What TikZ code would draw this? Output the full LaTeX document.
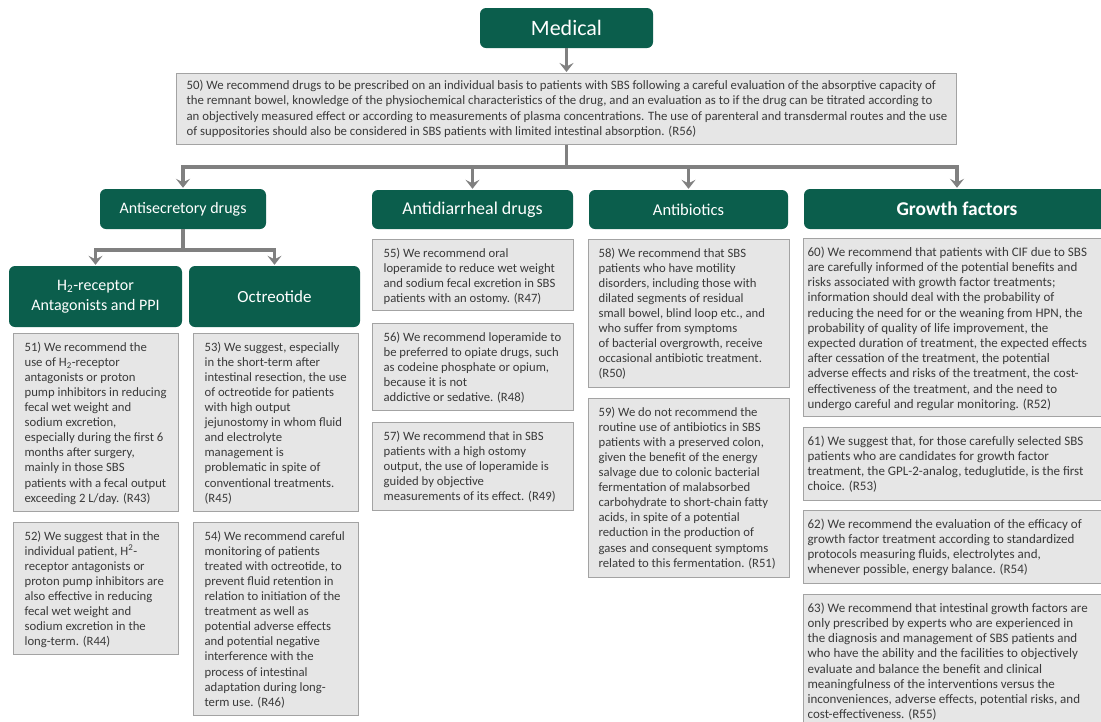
\documentclass[tikz,border=0pt]{standalone}
\usepackage{fontspec}
\setmainfont{Carlito}
\usetikzlibrary{arrows.meta}
\definecolor{hdrgreen}{HTML}{0B5E4C}
\definecolor{boxfill}{HTML}{E6E6E6}
\definecolor{boxline}{HTML}{A3A3A3}
\definecolor{txtgray}{HTML}{3A3A3A}
\definecolor{conngray}{HTML}{808080}
\newcommand{\gbody}[3]{\parbox[c][#2pt][t]{#1pt}{\begin{tabular}{@{}l@{}}#3\end{tabular}}}
\begin{document}
\begin{tikzpicture}[x=1pt,y=-1pt,
  hdr/.style={fill=hdrgreen, rounded corners=6pt, text=white, inner sep=0pt, align=center},
  gbox/.style={draw=boxline, fill=boxfill, line width=1.2pt, anchor=north west, text=txtgray,
    inner xsep=11pt, inner ysep=7pt, font=\fontsize{12.7}{15.1}\selectfont},
  gfbox/.style={gbox, inner xsep=4pt, font=\fontsize{13}{15.2}\selectfont},
  conn/.style={draw=conngray, line width=3.7pt, line join=miter},
  arr/.style={conn, -{Stealth[length=9pt,width=14pt,inset=3.5pt]}, shorten >=1pt}]
\useasboundingbox[fill=white] (0,0) rectangle (1101,721);
% header nodes
\node[hdr, minimum width=173pt, minimum height=40pt, font=\fontsize{22}{26}\selectfont] (med) at (566.5,28) {Medical};
\node[hdr, minimum width=166pt, minimum height=40pt, font=\fontsize{16}{19}\selectfont] (antisec) at (183,209) {Antisecretory drugs};
\node[hdr, minimum width=201pt, minimum height=39pt, font=\fontsize{18}{21}\selectfont] (antidia) at (472.5,209.5) {Antidiarrheal drugs};
\node[hdr, minimum width=199pt, minimum height=39pt, font=\fontsize{16.5}{19}\selectfont] (antibio) at (688.5,209.5) {Antibiotics};
\node[hdr, minimum width=306pt, minimum height=40pt, font=\fontsize{19.5}{23}\selectfont\bfseries] (growth) at (957,209) {Growth factors};
\node[hdr, minimum width=173pt, minimum height=61pt, font=\fontsize{16}{20}\selectfont] (h2) at (95.5,296.5) {H\textsubscript{2}-receptor\\Antagonists and PPI};
\node[hdr, minimum width=171pt, minimum height=61pt, font=\fontsize{17}{20}\selectfont] (octr) at (274.5,296.5) {Octreotide};
% box 50
\node[gbox, inner xsep=10pt, inner ysep=5pt, font=\fontsize{12.8}{15.5}\selectfont] (b50) at (176,73) {\gbody{760}{61}{%
50) We recommend drugs to be prescribed on an individual basis to patients with SBS following a careful evaluation of the absorptive capacity of\\
the remnant bowel, knowledge of the physiochemical characteristics of the drug, and an evaluation as to if the drug can be titrated according to\\
an objectively measured effect or according to measurements of plasma concentrations. The use of parenteral and transdermal routes and the use\\
of suppositories should also be considered in SBS patients with limited intestinal absorption. (R56)}};
% column 1
\node[gbox] (b51) at (13,333) {\gbody{143}{164}{%
51) We recommend the\\
use of H\textsubscript{2}-receptor\\
antagonists or proton\\
pump inhibitors in reducing\\
fecal wet weight and\\
sodium excretion,\\
especially during the first 6\\
months after surgery,\\
mainly in those SBS\\
patients with a fecal output\\
exceeding 2 L/day. (R43)}};
\node[gbox] (b52) at (13,522) {\gbody{143}{118}{%
52) We suggest that in the\\
individual patient, H\textsuperscript{2}-\\
receptor antagonists or\\
proton pump inhibitors are\\
also effective in reducing\\
fecal wet weight and\\
sodium excretion in the\\
long-term. (R44)}};
% column 2
\node[gbox] (b53) at (193,333) {\gbody{143}{164}{%
53) We suggest, especially\\
in the short-term after\\
intestinal resection, the use\\
of octreotide for patients\\
with high output\\
jejunostomy in whom fluid\\
and electrolyte\\
management is\\
problematic in spite of\\
conventional treatments.\\
(R45)}};
\node[gbox] (b54) at (193,522) {\gbody{143}{179}{%
54) We recommend careful\\
monitoring of patients\\
treated with octreotide, to\\
prevent fluid retention in\\
relation to initiation of the\\
treatment as well as\\
potential adverse effects\\
and potential negative\\
interference with the\\
process of intestinal\\
adaptation during long-\\
term use. (R46)}};
% column 3
\node[gbox] (b55) at (372,239) {\gbody{179}{57}{%
55) We recommend oral\\
loperamide to reduce wet weight\\
and sodium fecal excretion in SBS\\
patients with an ostomy. (R47)}};
\node[gbox] (b56) at (372,323) {\gbody{179}{73}{%
56) We recommend loperamide to\\
be preferred to opiate drugs, such\\
as codeine phosphate or opium,\\
because it is not\\
addictive or sedative. (R48)}};
\node[gbox] (b57) at (372,422) {\gbody{179}{74}{%
57) We recommend that in SBS\\
patients with a high ostomy\\
output, the use of loperamide is\\
guided by objective\\
measurements of its effect. (R49)}};
% column 4
\node[gbox, inner xsep=10pt] (b58) at (588,239) {\gbody{181}{134}{%
58) We recommend that SBS\\
patients who have motility\\
disorders, including those with\\
dilated segments of residual\\
small bowel, blind loop etc., and\\
who suffer from symptoms\\
of bacterial overgrowth, receive\\
occasional antibiotic treatment.\\
(R50)}};
\node[gbox, inner xsep=10pt] (b59) at (588,398) {\gbody{181}{165}{%
59) We do not recommend the\\
routine use of antibiotics in SBS\\
patients with a preserved colon,\\
given the benefit of the energy\\
salvage due to colonic bacterial\\
fermentation of malabsorbed\\
carbohydrate to short-chain fatty\\
acids, in spite of a potential\\
reduction in the production of\\
gases and consequent symptoms\\
related to this fermentation. (R51)}};
% column 5
\node[gfbox] (b60) at (803,238) {\gbody{297}{164}{%
60) We recommend that patients with CIF due to SBS\\
are carefully informed of the potential benefits and\\
risks associated with growth factor treatments;\\
information should deal with the probability of\\
reducing the need for or the weaning from HPN, the\\
probability of quality of life improvement, the\\
expected duration of treatment, the expected effects\\
after cessation of the treatment, the potential\\
adverse effects and risks of the treatment, the cost-\\
effectiveness of the treatment, and the need to\\
undergo careful and regular monitoring. (R52)}};
\node[gfbox] (b61) at (803,427) {\gbody{297}{59}{%
61) We suggest that, for those carefully selected SBS\\
patients who are candidates for growth factor\\
treatment, the GPL-2-analog, teduglutide, is the first\\
choice. (R53)}};
\node[gfbox] (b62) at (803,510) {\gbody{297}{59}{%
62) We recommend the evaluation of the efficacy of\\
growth factor treatment according to standardized\\
protocols measuring fluids, electrolytes and,\\
whenever possible, energy balance. (R54)}};
\node[gfbox] (b63) at (803,594) {\gbody{297}{120}{%
63) We recommend that intestinal growth factors are\\
only prescribed by experts who are experienced in\\
the diagnosis and management of SBS patients and\\
who have the ability and the facilities to objectively\\
evaluate and balance the benefit and clinical\\
meaningfulness of the interventions versus the\\
inconveniences, adverse effects, potential risks, and\\
cost-effectiveness. (R55)}};
% connectors
\coordinate (bus) at (566,167);
\coordinate (bus2) at (183,250);
\draw[arr] (med.south) -- (med.south |- b50.north);
\draw[arr] (b50.south) |- (antisec.north |- bus) -- (antisec.north);
\draw[arr] (b50.south) |- (antidia.north |- bus) -- (antidia.north);
\draw[arr] (b50.south) |- (antibio.north |- bus) -- (antibio.north);
\draw[arr] (b50.south) |- (growth.north |- bus) -- (growth.north);
\draw[arr] (antisec.south) |- (h2.north |- bus2) -- (h2.north);
\draw[arr] (antisec.south) |- (octr.north |- bus2) -- (octr.north);
\end{tikzpicture}
\end{document}
